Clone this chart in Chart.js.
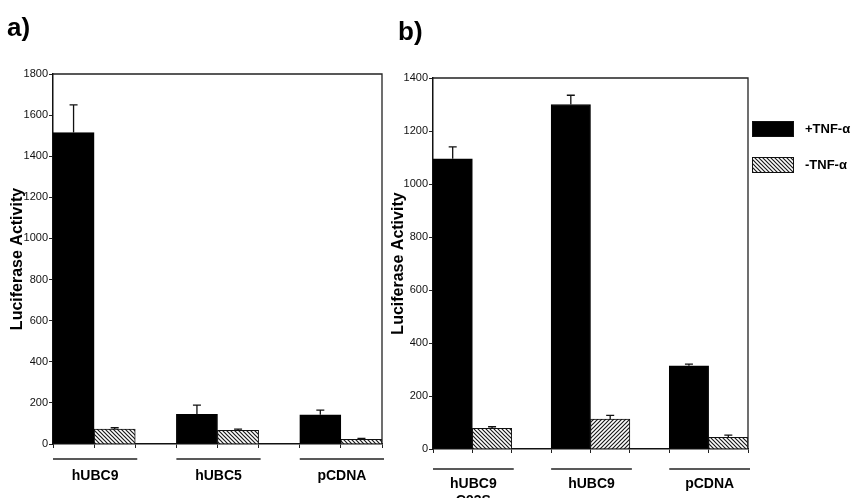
<!DOCTYPE html>
<html><head><meta charset="utf-8">
<script src="https://cdn.jsdelivr.net/npm/chart.js@4.4.1/dist/chart.umd.min.js"></script>
<style>
html,body{margin:0;padding:0;background:#fff;width:855px;height:498px;overflow:hidden;}
.wrap{position:absolute;top:0;}
#wa{left:0;}
#wb{left:385px;}
</style></head><body>
<div class="wrap" id="wa"><canvas id="ca" width="392" height="498"></canvas></div>
<div class="wrap" id="wb"><canvas id="cb" width="470" height="498"></canvas></div>
<script>
// ---- data ----
const seriesNames = ['+TNF-\u03b1', '-TNF-\u03b1'];
const yTitle = 'Luciferase Activity';

const categoriesA = ['hUBC9', 'hUBC5', 'pCDNA'];
const plusA = [1515, 144, 142];
const plusErrA = [135, 45, 23];
const minusA = [73, 66, 23];
const minusErrA = [6, 6, 4];
const yMaxA = 1800;

const categoriesB = [['hUBC9', 'C93S'], 'hUBC9', 'pCDNA'];
const plusB = [1095, 1300, 314];
const plusErrB = [45, 35, 6];
const minusB = [78, 113, 44];
const minusErrB = [6, 14, 8];
const yMaxB = 1400;
const yStep = 200;

// ---- styling helpers ----
const FONT = "'Liberation Sans', Arial, Helvetica, sans-serif";
function hatch(dir){
  const n = 4, c = document.createElement('canvas'); c.width = n; c.height = n;
  const g = c.getContext('2d');
  g.fillStyle = '#fff'; g.fillRect(0, 0, n, n);
  g.strokeStyle = '#1a1a1a'; g.lineWidth = 1.2; g.beginPath();
  if (dir === 'back') {
    g.moveTo(-1, -1); g.lineTo(n + 1, n + 1);
    g.moveTo(-1, n - 1); g.lineTo(1, n + 1);
    g.moveTo(n - 1, -1); g.lineTo(n + 1, 1);
  } else {
    g.moveTo(-1, n + 1); g.lineTo(n + 1, -1);
    g.moveTo(-1, 1); g.lineTo(1, -1);
    g.moveTo(n - 1, n + 1); g.lineTo(n + 1, n - 1);
  }
  g.stroke();
  return g.createPattern(c, 'repeat');
}
const HB = hatch('back'), HF = hatch('fwd');

const decor = {
  id: 'decor',
  afterDatasetsDraw(chart, args, o) {
    const ctx = chart.ctx, ys = chart.scales.y;
    chart.data.datasets.forEach((ds, di) => {
      const meta = chart.getDatasetMeta(di);
      meta.data.forEach((bar, i) => {
        const top = ys.getPixelForValue(ds.data[i].y + ds.err[i]);
        ctx.save();
        ctx.strokeStyle = '#111'; ctx.lineWidth = 1.3;
        ctx.beginPath();
        ctx.moveTo(bar.x, bar.y); ctx.lineTo(bar.x, top);
        ctx.moveTo(bar.x - 4, top); ctx.lineTo(bar.x + 4, top);
        ctx.stroke(); ctx.restore();
      });
    });
  },
  afterDraw(chart, args, o) {
    const ctx = chart.ctx, xs = chart.scales.x, ca = chart.chartArea;
    ctx.save();
    // frame top & right
    ctx.strokeStyle = '#222'; ctx.lineWidth = 1.3;
    ctx.beginPath();
    ctx.moveTo(ca.left, ca.top); ctx.lineTo(ca.right, ca.top); ctx.lineTo(ca.right, ca.bottom);
    ctx.stroke();
    // group underlines and labels
    o.categories.forEach((lab, i) => {
      const c = i * 3 + 1;
      const x0 = xs.getPixelForValue(c - 1), x1 = xs.getPixelForValue(c + 1), xm = xs.getPixelForValue(c);
      ctx.strokeStyle = '#222'; ctx.lineWidth = 1.4;
      ctx.beginPath(); ctx.moveTo(x0, o.lineY); ctx.lineTo(x1 + 2, o.lineY); ctx.stroke();
      ctx.fillStyle = '#000'; ctx.font = 'bold 14px ' + FONT;
      ctx.textAlign = 'center'; ctx.textBaseline = 'middle';
      const lines = Array.isArray(lab) ? lab : [lab];
      lines.forEach((t, k) => ctx.fillText(t, xm + 1, o.labelY + k * 17));
    });
    // panel letter
    ctx.font = 'bold 26px ' + FONT; ctx.textAlign = 'left'; ctx.textBaseline = 'alphabetic';
    ctx.fillText(o.letter, o.letterX, o.letterY);
    // legend
    if (o.legend) {
      chart.data.datasets.forEach((ds, di) => {
        const y = o.legend.y + di * 36;
        ctx.fillStyle = ds.legendFill;
        ctx.fillRect(o.legend.x, y, 42, 16);
        ctx.strokeStyle = '#111'; ctx.lineWidth = 1;
        ctx.strokeRect(o.legend.x + 0.5, y + 0.5, 41, 15);
        ctx.fillStyle = '#000'; ctx.font = 'bold 13px ' + FONT;
        ctx.textBaseline = 'middle';
        ctx.fillText(ds.label, o.legend.x + 53, y + 8);
      });
    }
    ctx.restore();
  }
};

function makeChart(id, d, L) {
  const toPts = arr => arr.map((v, i) => ({ x: i * 3 + 1, y: v }));
  return new Chart(document.getElementById(id), {
    type: 'bar',
    data: { datasets: [
      { label: seriesNames[0], data: toPts(d.plus), err: d.plusErr, backgroundColor: '#000', borderColor: '#000',
        borderWidth: 1, legendFill: '#000', barThickness: 'flex', categoryPercentage: 2 / 3, barPercentage: 1 },
      { label: seriesNames[1], data: toPts(d.minus), err: d.minusErr, backgroundColor: L.hatches, borderColor: '#111',
        borderWidth: 1, legendFill: HB, barThickness: 'flex', categoryPercentage: 2 / 3, barPercentage: 1 }
    ] },
    plugins: [decor],
    options: {
      responsive: false, animation: false, devicePixelRatio: 1,
      layout: { padding: { top: L.top, right: L.right, left: 0, bottom: 0 } },
      plugins: {
        legend: { display: false }, tooltip: { enabled: false },
        decor: { categories: d.categories, lineY: L.lineY, labelY: L.labelY, letter: L.letter,
                 letterX: L.letterX, letterY: L.letterY, legend: L.legend }
      },
      scales: {
        x: { type: 'linear', min: 0, max: 8, offset: false,
             ticks: { stepSize: 1, autoSkip: false, callback: () => '' },
             grid: { drawOnChartArea: false, drawTicks: true, tickLength: 4, color: '#222', lineWidth: 1, offset: false },
             border: { display: true, color: '#111', width: 1.5 },
             afterFit: s => { s.height = L.xh; } },
        y: { min: 0, max: d.ymax,
             ticks: { stepSize: yStep, color: '#111', padding: 1, font: { family: FONT, size: 11 }, callback: v => String(v) },
             grid: { drawOnChartArea: false, tickLength: 4, color: '#222' },
             border: { display: true, color: '#111', width: 1.5 },
             title: { display: true, text: yTitle, color: '#000', font: { family: FONT, size: 16, weight: 'bold' },
                      padding: { top: L.tpad, bottom: 0 } },
             afterFit: s => { s.width = L.yw; } }
      }
    }
  });
}

makeChart('ca',
  { categories: categoriesA, plus: plusA, plusErr: plusErrA, minus: minusA, minusErr: minusErrA, ymax: yMaxA },
  { hatches: [HB, HB, HB], top: 74, right: 10, xh: 54, yw: 53, tpad: 8, lineY: 459, labelY: 476,
    letter: 'a)', letterX: 7, letterY: 36 });
makeChart('cb',
  { categories: categoriesB, plus: plusB, plusErr: plusErrB, minus: minusB, minusErr: minusErrB, ymax: yMaxB },
  { hatches: [HB, HF, HB], top: 78, right: 107, xh: 49, yw: 48, tpad: 4, lineY: 469, labelY: 484,
    letter: 'b)', letterX: 13, letterY: 40, legend: { x: 367, y: 121 } });
</script>
</body></html>
